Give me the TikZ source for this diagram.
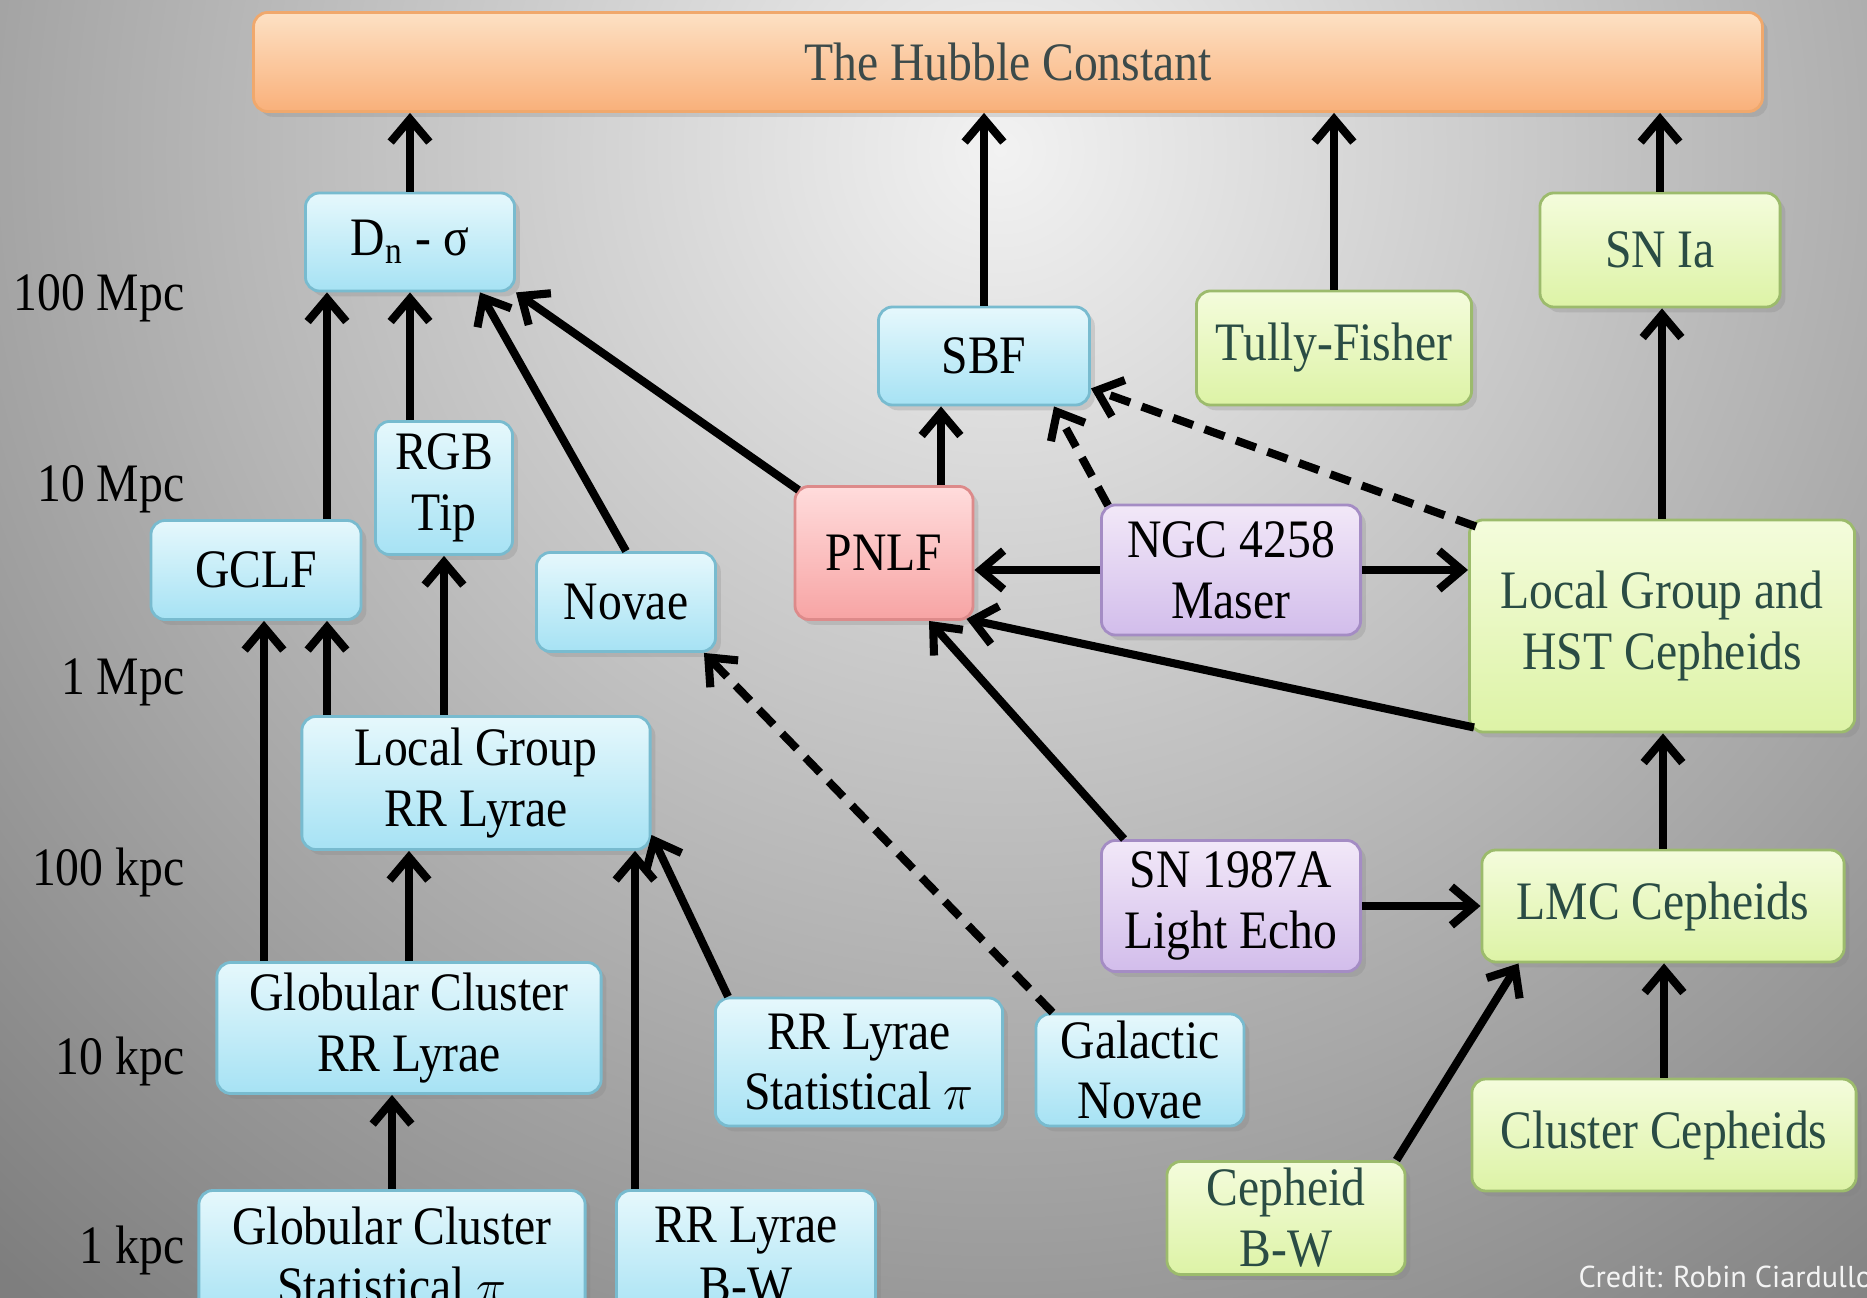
\documentclass[tikz,border=0pt]{standalone}
\usepackage{fontspec}
\setmainfont{Liberation Serif}[FakeStretch=0.88]
\newfontfamily\creditfont{PT Sans}
\usetikzlibrary{calc,arrows.meta,shadows}

\definecolor{bgin}{HTML}{F2F2F2}
\definecolor{bgout}{HTML}{7E7E7E}
\definecolor{bluetop}{HTML}{E6F8FC}
\definecolor{bluebot}{HTML}{A6E2F4}
\definecolor{blueline}{HTML}{78BBCF}
\definecolor{greentop}{HTML}{F4FCDC}
\definecolor{greenbot}{HTML}{DDF3A6}
\definecolor{greenline}{HTML}{9CBB6C}
\definecolor{greentext}{HTML}{2A4C44}
\definecolor{purptop}{HTML}{F2E8F8}
\definecolor{purpbot}{HTML}{D2BDEB}
\definecolor{purpline}{HTML}{A48CC4}
\definecolor{redtop}{HTML}{FFDCDC}
\definecolor{redbot}{HTML}{F7A4A4}
\definecolor{redline}{HTML}{DD8A8A}
\definecolor{orangetop}{HTML}{FDE1C4}
\definecolor{orangebot}{HTML}{F9B07A}
\definecolor{orangeline}{HTML}{F0A86C}
\definecolor{hubtext}{HTML}{3C4A4A}
\definecolor{creditcol}{HTML}{F4F4F4}

\newcommand{\boxfont}{\fontsize{15.4}{17.3}\selectfont}

\tikzset{
  box/.style={draw, rounded corners=4pt, line width=0.8pt, align=center, inner sep=0pt, font=\boxfont,
    drop shadow={opacity=0.25, shadow xshift=1.5pt, shadow yshift=-1.5pt}},
  bluebox/.style={box, draw=blueline, top color=bluetop, bottom color=bluebot},
  greenbox/.style={box, draw=greenline, top color=greentop, bottom color=greenbot, text=greentext},
  purpbox/.style={box, draw=purpline, top color=purptop, bottom color=purpbot},
  redbox/.style={box, draw=redline, top color=redtop, bottom color=redbot},
  orangebox/.style={box, draw=orangeline, top color=orangetop, bottom color=orangebot, text=hubtext},
  arr/.style={draw, line width=2.3pt, -{Straight Barb[length=6.5pt,width=11pt]}},
  dasharr/.style={arr, dash pattern=on 6pt off 3.5pt},
  scalelabel/.style={anchor=east, inner sep=0pt, font=\boxfont}
}

\begin{document}
\begin{tikzpicture}[x=0.01cm, y=-0.01cm]
\useasboundingbox (0,0) rectangle (1867,1298);
\fill[bgout] (0,0) rectangle (1867,1298);
\shade[inner color=bgin, outer color=bgout] (1000,150) circle (1500);

% distance scale
\node[scalelabel] (s100mpc) at (185,298) {100 Mpc};
\node[scalelabel] (s10mpc) at (185,489) {10 Mpc};
\node[scalelabel] (s1mpc) at (185,682) {1 Mpc};
\node[scalelabel] (s100kpc) at (185,872) {100 kpc};
\node[scalelabel] (s10kpc) at (185,1061) {10 kpc};
\node[scalelabel] (s1kpc) at (185,1250) {1 kpc};

% boxes
\node[orangebox, minimum width=15.08cm, minimum height=0.99cm] (hub) at (1008,62) {The Hubble Constant};
\node[bluebox, minimum width=2.09cm, minimum height=0.98cm] (dn) at (410,242) {D\textsubscript{n} - σ};
\node[bluebox, minimum width=2.11cm, minimum height=0.98cm] (sbf) at (984,356) {SBF};
\node[greenbox, minimum width=2.75cm, minimum height=1.14cm] (tf) at (1334,348) {Tully-Fisher};
\node[greenbox, minimum width=2.40cm, minimum height=1.14cm] (snia) at (1660,250) {SN Ia};
\node[bluebox, minimum width=1.37cm, minimum height=1.33cm] (rgb) at (444,488) {RGB\\Tip};
\node[bluebox, minimum width=2.10cm, minimum height=0.99cm] (gclf) at (256,570) {GCLF};
\node[bluebox, minimum width=1.79cm, minimum height=0.99cm] (nov) at (626,602) {Novae};
\node[redbox, minimum width=1.78cm, minimum height=1.33cm] (pnlf) at (884,553) {PNLF};
\node[purpbox, minimum width=2.59cm, minimum height=1.30cm] (ngc) at (1231,570) {NGC 4258\\Maser};
\node[greenbox, minimum width=3.85cm, minimum height=2.12cm] (lghst) at (1662,626) {Local Group and\\HST Cepheids};
\node[bluebox, minimum width=3.48cm, minimum height=1.33cm] (lgrr) at (476,783) {Local Group\\RR Lyrae};
\node[purpbox, minimum width=2.59cm, minimum height=1.31cm] (sn87) at (1231,906) {SN 1987A\\Light Echo};
\node[greenbox, minimum width=3.62cm, minimum height=1.12cm] (lmc) at (1663,906) {LMC Cepheids};
\node[bluebox, minimum width=3.84cm, minimum height=1.31cm] (gcrr) at (409,1028) {Globular Cluster\\RR Lyrae};
\node[bluebox, minimum width=2.87cm, minimum height=1.28cm] (rrsp) at (859,1062) {RR Lyrae\\Statistical $\pi$};
\node[bluebox, minimum width=2.08cm, minimum height=1.12cm] (gnov) at (1140,1070) {Galactic\\Novae};
\node[greenbox, minimum width=3.84cm, minimum height=1.12cm] (clc) at (1664,1135) {Cluster Cepheids};
\node[greenbox, minimum width=2.38cm, minimum height=1.13cm] (cbw) at (1286,1218) {Cepheid\\B-W};
\node[bluebox, minimum width=3.86cm, minimum height=1.31cm] (gcsp) at (392,1256) {Globular Cluster\\Statistical $\pi$};
\node[bluebox, minimum width=2.59cm, minimum height=1.31cm] (rrbw) at (746,1256) {RR Lyrae\\B-W};

% into the Hubble constant
\draw[arr] (dn.north) -- (dn.north |- hub.south);
\draw[arr] (sbf.north) -- (sbf.north |- hub.south);
\draw[arr] (tf.north) -- (tf.north |- hub.south);
\draw[arr] (snia.north) -- (snia.north |- hub.south);

% left ladder
\draw[arr] ($(gclf.north)+(71,0)$) -- ($(dn.south)+(-83,0)$);
\draw[arr] (rgb.north -| dn.south) -- (dn.south);
\draw[arr] (nov.north) -- ($(dn.south)+(70,0)$);
\draw[arr] ($(pnlf.north west)+(5,5)$) -- (dn.south east);
\draw[arr] ($(lgrr.north)+(-149,0)$) -- ($(gclf.south)+(71,0)$);
\draw[arr] ($(gcrr.north)+(-145,0)$) -- ($(gclf.south)+(8,0)$);
\draw[arr] (rgb.south |- lgrr.north) -- (rgb.south);
\draw[arr] (gcrr.north) -- (gcrr.north |- lgrr.south);
\draw[arr] (gcsp.north) -- (gcsp.north |- gcrr.south);
\draw[arr] ($(rrbw.north)+(-111,0)$) -- ($(lgrr.south)+(159,0)$);
\draw[arr] ($(rrsp.north west)+(14,0)$) -- ($(lgrr.south east)+(0,-16)$);
\draw[dasharr] ($(gnov.north west)+(18,0)$) -- ($(nov.south east)+(-13,0)$);

% middle
\draw[arr] ($(pnlf.north)+(57,0)$) -- ($(sbf.south)+(-43,0)$);
\draw[dasharr] ($(ngc.north west)+(8,2)$) -- ($(sbf.south)+(70,0)$);
\draw[dasharr] ($(lghst.north west)+(8,8)$) -- ($(sbf.south east)+(0,-18)$);
\draw[arr] (ngc.west) -- (ngc.west -| pnlf.east);
\draw[arr] (ngc.east) -- (ngc.east -| lghst.west);
\draw[arr] ($(lghst.south west)+(6,-6)$) -- ($(pnlf.south east)+(-8,-2)$);
\draw[arr] ($(sn87.north west)+(24,0)$) -- ($(pnlf.south)+(45,0)$);

% Cepheids
\draw[arr] (lghst.north) -- (lghst.north |- snia.south);
\draw[arr] (lmc.north) -- (lmc.north |- lghst.south);
\draw[arr] (sn87.east) -- (sn87.east -| lmc.west);
\draw[arr] (clc.north) -- (clc.north |- lmc.south);
\draw[arr] ($(cbw.north east)+(-10,0)$) -- ($(lmc.south west)+(38,0)$);

\node[anchor=base west, inner sep=0pt, text=creditcol, font=\creditfont\fontsize{8.6}{10}\selectfont] (credit) at (1578,1287) {Credit: Robin Ciardullo};
\end{tikzpicture}
\end{document}
